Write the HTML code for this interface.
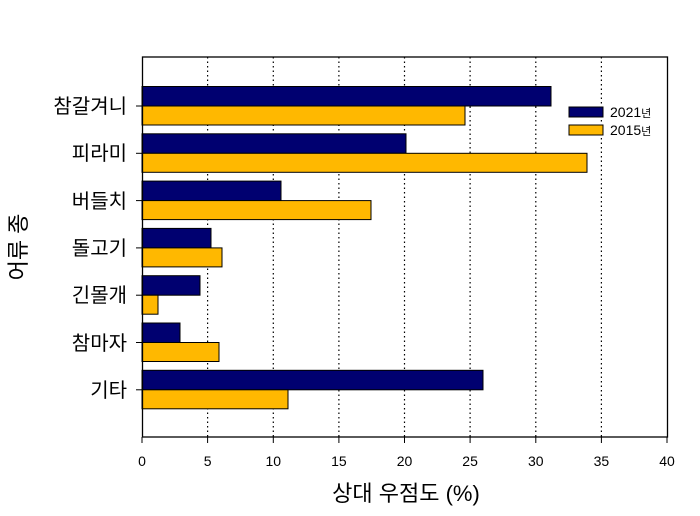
<!DOCTYPE html>
<html><head><meta charset="utf-8"><style>body{margin:0;background:#fff}</style></head><body>
<svg width="700" height="511" xmlns="http://www.w3.org/2000/svg" font-family="'Liberation Sans','Noto Sans CJK KR',sans-serif">
<rect width="700" height="511" fill="#fff"/>
<g stroke="#000" stroke-width="1.2" stroke-dasharray="1.5,3">
<line x1="207.6" y1="57" x2="207.6" y2="437"/><line x1="273.3" y1="57" x2="273.3" y2="437"/>
<line x1="338.9" y1="57" x2="338.9" y2="437"/><line x1="404.5" y1="57" x2="404.5" y2="437"/>
<line x1="470.1" y1="57" x2="470.1" y2="437"/><line x1="535.8" y1="57" x2="535.8" y2="437"/>
<line x1="601.4" y1="57" x2="601.4" y2="437"/>
</g>
<g stroke="#000" stroke-width="1">
<rect x="142" y="86.5" width="409" height="19.5" fill="#000070"/><rect x="142" y="106" width="323" height="19" fill="#FFB800"/>
<rect x="142" y="133.8" width="264" height="19.5" fill="#000070"/><rect x="142" y="153.3" width="445" height="19" fill="#FFB800"/>
<rect x="142" y="181.1" width="139" height="19.5" fill="#000070"/><rect x="142" y="200.6" width="229" height="19" fill="#FFB800"/>
<rect x="142" y="228.4" width="69" height="19.5" fill="#000070"/><rect x="142" y="247.9" width="80" height="19" fill="#FFB800"/>
<rect x="142" y="275.7" width="58" height="19.5" fill="#000070"/><rect x="142" y="295.2" width="16" height="19" fill="#FFB800"/>
<rect x="142" y="323" width="38" height="19.5" fill="#000070"/><rect x="142" y="342.5" width="77" height="19" fill="#FFB800"/>
<rect x="142" y="370.3" width="341" height="19.5" fill="#000070"/><rect x="142" y="389.8" width="146" height="19" fill="#FFB800"/>
</g>
<rect x="142.5" y="57" width="525" height="380" fill="none" stroke="#000" stroke-width="1.3"/>
<g stroke="#000">
<line x1="136" y1="106" x2="142" y2="106"/><line x1="136" y1="153.3" x2="142" y2="153.3"/><line x1="136" y1="200.6" x2="142" y2="200.6"/>
<line x1="136" y1="247.9" x2="142" y2="247.9"/><line x1="136" y1="295.2" x2="142" y2="295.2"/><line x1="136" y1="342.5" x2="142" y2="342.5"/><line x1="136" y1="389.8" x2="142" y2="389.8"/>
<line x1="142" y1="437" x2="142" y2="443"/><line x1="207.6" y1="437" x2="207.6" y2="443"/><line x1="273.3" y1="437" x2="273.3" y2="443"/><line x1="338.9" y1="437" x2="338.9" y2="443"/><line x1="404.5" y1="437" x2="404.5" y2="443"/><line x1="470.1" y1="437" x2="470.1" y2="443"/><line x1="535.8" y1="437" x2="535.8" y2="443"/><line x1="601.4" y1="437" x2="601.4" y2="443"/><line x1="667" y1="437" x2="667" y2="443"/>
</g>
<g font-size="20" text-anchor="end" fill="#000">
<text x="127" y="113">참갈겨니</text><text x="127" y="160">피라미</text><text x="127" y="208">버들치</text>
<text x="127" y="255">돌고기</text><text x="127" y="302">긴몰개</text><text x="127" y="350">참마자</text><text x="127" y="397">기타</text>
</g>
<g font-size="14" text-anchor="middle">
<text x="142" y="466">0</text><text x="207.6" y="466">5</text><text x="273.3" y="466">10</text><text x="338.9" y="466">15</text><text x="404.5" y="466">20</text><text x="470.1" y="466">25</text><text x="535.8" y="466">30</text><text x="601.4" y="466">35</text><text x="667" y="466">40</text>
</g>
<text x="406" y="501" font-size="22" text-anchor="middle">상대 우점도 (%)</text>
<text transform="translate(26,247) rotate(-90)" font-size="22" text-anchor="middle">어류 종</text>
<rect x="569" y="107" width="34" height="10" fill="#000070" stroke="#000"/>
<rect x="569" y="125" width="34" height="10" fill="#FFB800" stroke="#000"/>
<text x="610" y="117" font-size="14">2021<tspan font-size="11">년</tspan></text>
<text x="610" y="135" font-size="14">2015<tspan font-size="11">년</tspan></text>
</svg>
</body></html>
